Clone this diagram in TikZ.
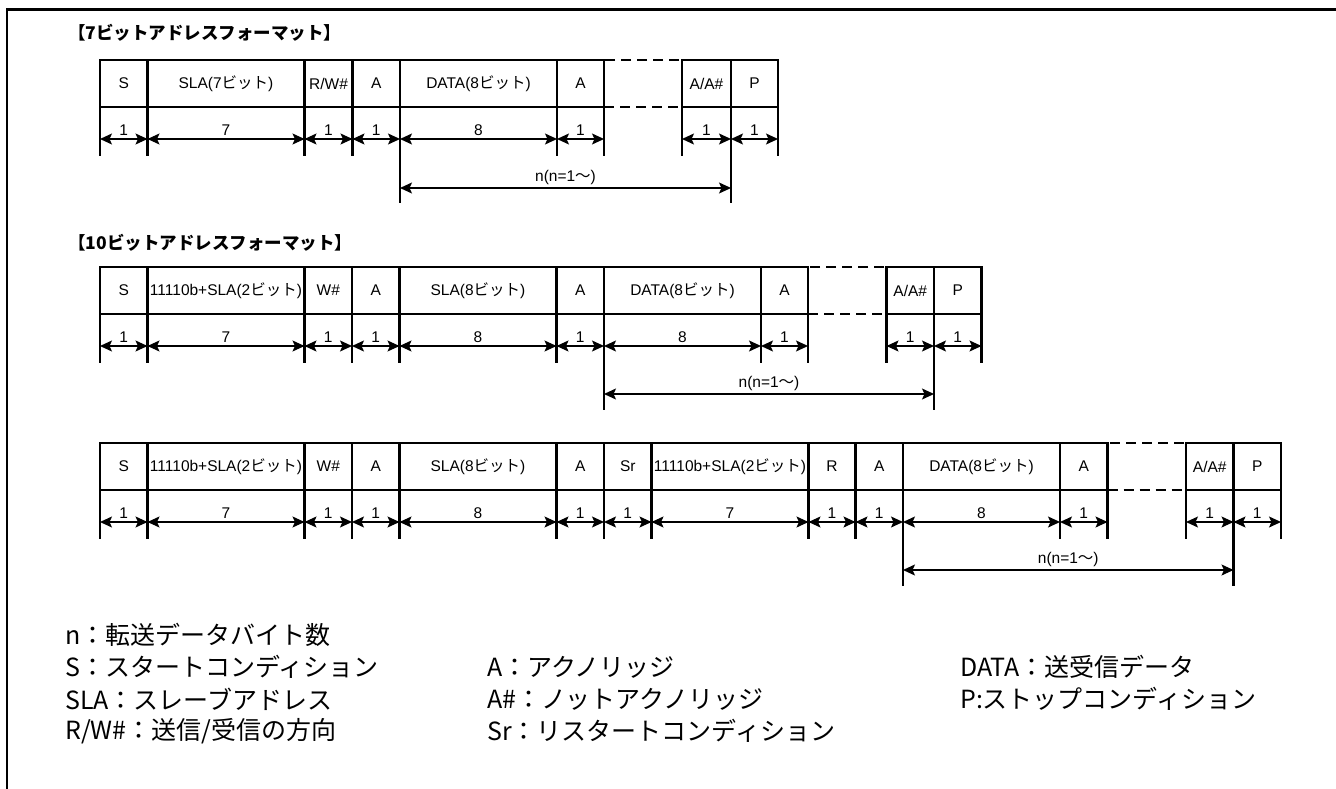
\documentclass[tikz,border=0pt]{standalone}
\usepackage{fontspec}
\setmainfont{Liberation Sans}
\newfontfamily\jp{Noto Sans CJK JP}
\usepackage{tikz}
\usetikzlibrary{positioning,calc,arrows.meta}
\tikzstyle{cell}= [draw, line width=2.8pt, inner sep=1pt, outer sep=0pt, minimum height=47pt, font=\fontsize{15.5}{18}\selectfont]
\tikzstyle{gapbox}= [draw, line width=2.8pt, dash pattern=on 10pt off 6pt, outer sep=0pt, minimum height=47pt]
\tikzstyle{tick}= [line width=2.8pt]
\tikzstyle{dim}= [line width=1.3pt, {Stealth[length=12pt,width=11pt,inset=2.5pt]}-{Stealth[length=12pt,width=11pt,inset=2.5pt]}]
\tikzstyle{num}= [font=\fontsize{15.5}{18}\selectfont, inner sep=3pt]
\tikzstyle{title}= [anchor=west, inner sep=0pt, font=\jp\bfseries\fontsize{17.5}{20}\selectfont]
\tikzstyle{note}= [anchor=west, inner sep=0pt, font=\jp\fontsize{25}{30}\selectfont]

\begin{document}
\begin{tikzpicture}[x=1pt, y=-1pt]
	\useasboundingbox (0,0) rectangle (1336,789);
	\draw[line width=2.8pt] (7,789) -- (7,9.5) -- (1336,9.5);

	% 7-bit format
	\node[title] (t1) at (68,33) {【7ビットアドレスフォーマット】};
	\foreach \xl/\xr/\txt/\num [count=\i] in {100/147.5/S/1, 147.5/304.5/{SLA(7{\jp ビット})}/7, 304.5/352.5/{R/W\#}/1, 352.5/400/A/1, 400/557/{DATA(8{\jp ビット})}/8, 557/604/A/1, 682/731/{A/A\#}/1, 731/778/P/1}
	{
		\node[cell, minimum width={(\xr-\xl)*1pt}] (a\i) at ({(\xl+\xr)/2},83.5) {\txt};
		\draw[tick] (a\i.south west) -- ++(0,49);
		\draw[tick] (a\i.south east) -- ++(0,49);
		\draw[dim] ([yshift=-32pt]a\i.south west) -- node[num, midway, above] {\num} ([yshift=-32pt]a\i.south east);
	}
	\node[gapbox, minimum width=78pt] (ag) at (643,83.5) {};
	\draw[tick] (a5.south west) -- ++(0,96);
	\draw[tick] (a8.south west) -- ++(0,96);
	\draw[dim] ([yshift=-81pt]a5.south west) -- node[num, midway, above] {n(n=1{\jp ～})} ([yshift=-81pt]a8.south west);

	% 10-bit format, write
	\node[title] (t2) at (68,243) {【10ビットアドレスフォーマット】};
	\foreach \xl/\xr/\txt/\num [count=\i] in {100/147.5/S/1, 147.5/304.5/{11110b+SLA(2{\jp ビット})}/7, 304.5/352/W\#/1, 352/399.5/A/1, 399.5/556.5/{SLA(8{\jp ビット})}/8, 556.5/604/A/1, 604/761/{DATA(8{\jp ビット})}/8, 761/808/A/1, 886.5/934/{A/A\#}/1, 934/981.5/P/1}
	{
		\node[cell, minimum width={(\xr-\xl)*1pt}] (b\i) at ({(\xl+\xr)/2},290.5) {\txt};
		\draw[tick] (b\i.south west) -- ++(0,49);
		\draw[tick] (b\i.south east) -- ++(0,49);
		\draw[dim] ([yshift=-32pt]b\i.south west) -- node[num, midway, above] {\num} ([yshift=-32pt]b\i.south east);
	}
	\node[gapbox, minimum width=78.5pt] (bg) at (847.25,290.5) {};
	\draw[tick] (b7.south west) -- ++(0,96);
	\draw[tick] (b10.south west) -- ++(0,96);
	\draw[dim] ([yshift=-80pt]b7.south west) -- node[num, midway, above] {n(n=1{\jp ～})} ([yshift=-80pt]b10.south west);

	% 10-bit format, read
	\foreach \xl/\xr/\txt/\num [count=\i] in {100/147.5/S/1, 147.5/304.5/{11110b+SLA(2{\jp ビット})}/7, 304.5/352/W\#/1, 352/399.5/A/1, 399.5/556.5/{SLA(8{\jp ビット})}/8, 556.5/604/A/1, 604/651.5/Sr/1, 651.5/808.5/{11110b+SLA(2{\jp ビット})}/7, 808.5/855.5/R/1, 855.5/903/A/1, 903/1060/{DATA(8{\jp ビット})}/8, 1060/1107.5/A/1, 1186/1233.5/{A/A\#}/1, 1233.5/1281/P/1}
	{
		\node[cell, minimum width={(\xr-\xl)*1pt}] (c\i) at ({(\xl+\xr)/2},466.5) {\txt};
		\draw[tick] (c\i.south west) -- ++(0,49);
		\draw[tick] (c\i.south east) -- ++(0,49);
		\draw[dim] ([yshift=-32pt]c\i.south west) -- node[num, midway, above] {\num} ([yshift=-32pt]c\i.south east);
	}
	\node[gapbox, minimum width=78.5pt] (cg) at (1146.75,466.5) {};
	\draw[tick] (c11.south west) -- ++(0,96);
	\draw[tick] (c14.south west) -- ++(0,96);
	\draw[dim] ([yshift=-80pt]c11.south west) -- node[num, midway, above] {n(n=1{\jp ～})} ([yshift=-80pt]c14.south west);

	% legend
	\node[note] (k1) at (65,635) {n：転送データバイト数};
	\node[note] (k2) at (65,667) {S：スタートコンディション};
	\node[note] (k3) at (65,699) {SLA：スレーブアドレス};
	\node[note] (k4) at (65,731) {R/W\#：送信/受信の方向};
	\node[note] (k5) at (487,667) {A：アクノリッジ};
	\node[note] (k6) at (487,699) {A\#：ノットアクノリッジ};
	\node[note] (k7) at (487,731) {Sr：リスタートコンディション};
	\node[note] (k8) at (960,667) {DATA：送受信データ};
	\node[note] (k9) at (960,699) {P:ストップコンディション};
\end{tikzpicture}
\end{document}
